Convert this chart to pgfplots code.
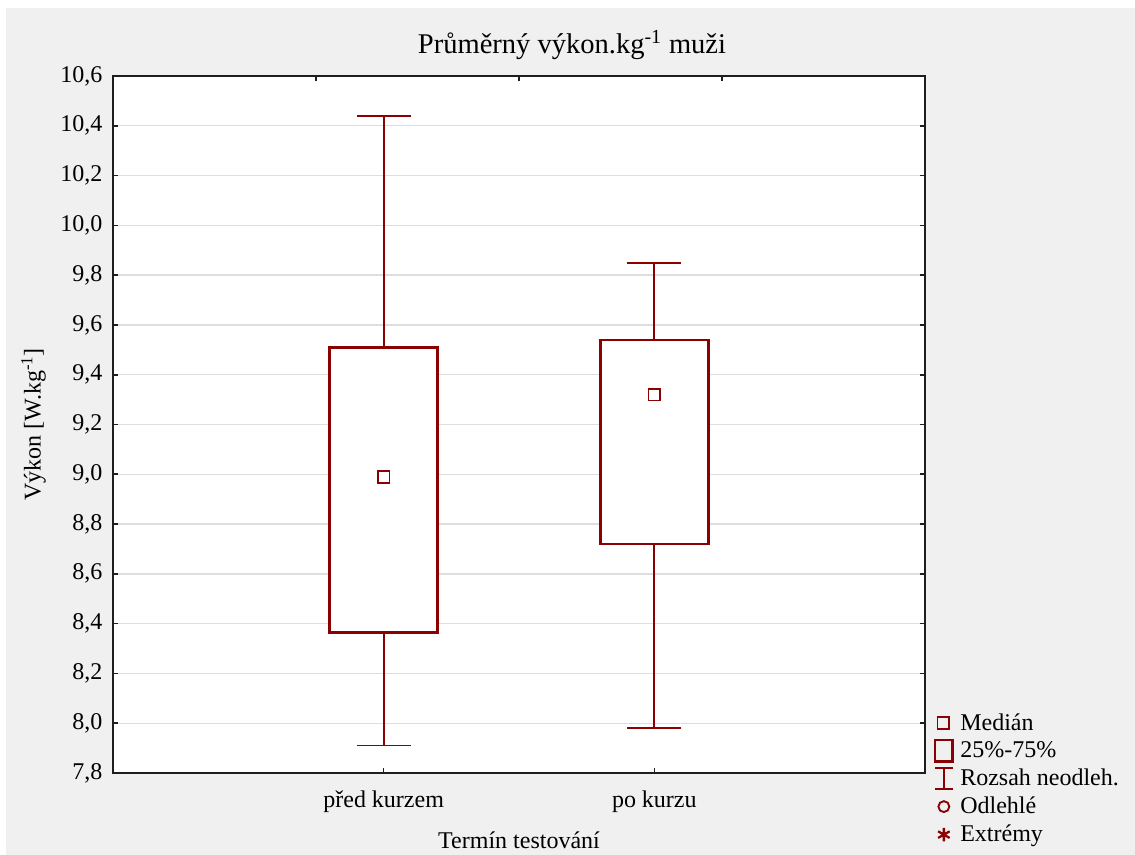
\documentclass[border=0pt]{standalone}
\usepackage{fontspec}
\setmainfont{Liberation Serif}
\usepackage{pgfplots}
\pgfplotsset{compat=1.18}
\usepgfplotslibrary{statistics}

\definecolor{boxred}{RGB}{139,0,0}
\definecolor{panel}{RGB}{240,240,240}
\definecolor{gridc}{RGB}{222,222,222}
\definecolor{axisc}{RGB}{30,30,30}

% 1 px of the layout grid = 0.75 pt
\newcommand{\px}[1]{#1*0.75pt}

\begin{document}
\begin{tikzpicture}
  \useasboundingbox (0,0) rectangle ({\px{1135}},{-\px{855}});
  \fill[white] (0,0) rectangle ({\px{1135}},{-\px{855}});
  \fill[panel] ({\px{6}},{-\px{8}}) rectangle ({\px{1135}},{-\px{855}});

  \node[font=\fontsize{21.4}{25}\selectfont] at ({\px{572}},{-\px{45}})
    {Průměrný výkon.kg\textsuperscript{-1} muži};

  \begin{axis}[
    at={({\px{113}},{-\px{773}})}, anchor=south west,
    scale only axis,
    width={\px{812}}, height={\px{697}},
    xmin=0, xmax=3,
    ymin=7.8, ymax=10.6,
    xtick={1,2},
    xticklabels={před kurzem, po kurzu},
    xtick pos=bottom,
    ytick={7.8,8.0,...,10.61},
    ytick pos=both,
    tick align=inside,
    major tick length={\px{5}},
    tick style={axisc, line width=1.2pt},
    axis line style={axisc, line width=1.5pt},
    axis background/.style={fill=white},
    ymajorgrids,
    grid style={gridc, line width=1pt},
    ticklabel style={font=\fontsize{18}{21}\selectfont},
    xticklabel style={yshift=-10pt},
    yticklabel style={xshift=-4.5pt,
      /pgf/number format/.cd, use comma, fixed, fixed zerofill, precision=1},
    /pgf/number format/assume math mode=true,
    label style={font=\fontsize{18}{21}\selectfont},
    xlabel={Termín testování},
    ylabel={Výkon [W.kg\textsuperscript{-1}]},
    xlabel style={yshift=-7pt},
    ylabel style={yshift=4pt},
    boxplot/draw direction=y,
    boxplot/box extend=0.4,
    boxplot/whisker extend=0.2,
    boxplot/every box/.style={draw=boxred, fill=white, line width=2pt},
    boxplot/every whisker/.style={draw=boxred, line width=1.3pt},
    boxplot/draw/median/.code={},
    legend style={
      at={(1.006,0.093)}, anchor=north west,
      draw=none, fill=none,
      font=\fontsize{18}{21}\selectfont,
      row sep=3pt,
      column sep=3pt,
    },
    legend cell align=left,
  ]
    % box: whiskers, quartiles
    \addplot[forget plot, boxred, boxplot prepared={draw position=1,
        lower whisker=7.91, lower quartile=8.365,
        median=8.99,
        upper quartile=9.51, upper whisker=10.44}]
      coordinates {};
    \addplot[forget plot, boxred, boxplot prepared={draw position=2,
        lower whisker=7.98, lower quartile=8.72,
        median=9.32,
        upper quartile=9.54, upper whisker=9.85}]
      coordinates {};
    % medians
    \addplot[forget plot, only marks, mark=square, mark size=4.4pt,
             mark options={draw=boxred, line width=1.4pt, fill=white}]
      coordinates {(1,8.99) (2,9.32)};

    % legend
    \addlegendimage{legend image code/.code={
      \path (0,-8pt) (14pt,8pt);
      \draw[boxred, line width=1.3pt] (2.3pt,-4.4pt) rectangle (11.1pt,4.4pt);}}
    \addlegendentry{Medián}
    \addlegendimage{legend image code/.code={
      \draw[boxred, line width=1.6pt] (0.5pt,-8pt) rectangle (13.5pt,8pt);}}
    \addlegendentry{25\%-75\%}
    \addlegendimage{legend image code/.code={
      \draw[boxred, line width=1.3pt] (7pt,-8pt) -- (7pt,8pt)
        (0.5pt,-8pt) -- (13.5pt,-8pt) (0.5pt,8pt) -- (13.5pt,8pt);}}
    \addlegendentry{Rozsah neodleh.}
    \addlegendimage{legend image code/.code={
      \path (0,-8pt) (14pt,8pt);
      \draw[boxred, line width=1.4pt] (7pt,0) circle (4.1pt);}}
    \addlegendentry{Odlehlé}
    \addlegendimage{legend image code/.code={
      \path (0,-8pt) (14pt,8pt);
      \draw[boxred, line width=1.7pt] plot[mark=asterisk, mark size=5pt] coordinates {(7pt,0)};}}
    \addlegendentry{Extrémy}
  \end{axis}

  % ticks along the top edge
  \begin{axis}[
    at={({\px{113}},{-\px{773}})}, anchor=south west,
    scale only axis,
    width={\px{812}}, height={\px{697}},
    xmin=0, xmax=3, ymin=7.8, ymax=10.6,
    axis x line*=top, axis y line=none,
    xtick={0.75,1.5,2.25}, xticklabels={},
    tick align=inside,
    major tick length={\px{5}},
    tick style={axisc, line width=1.2pt},
    axis line style={axisc, line width=1.5pt},
  ]
  \end{axis}
\end{tikzpicture}
\end{document}
